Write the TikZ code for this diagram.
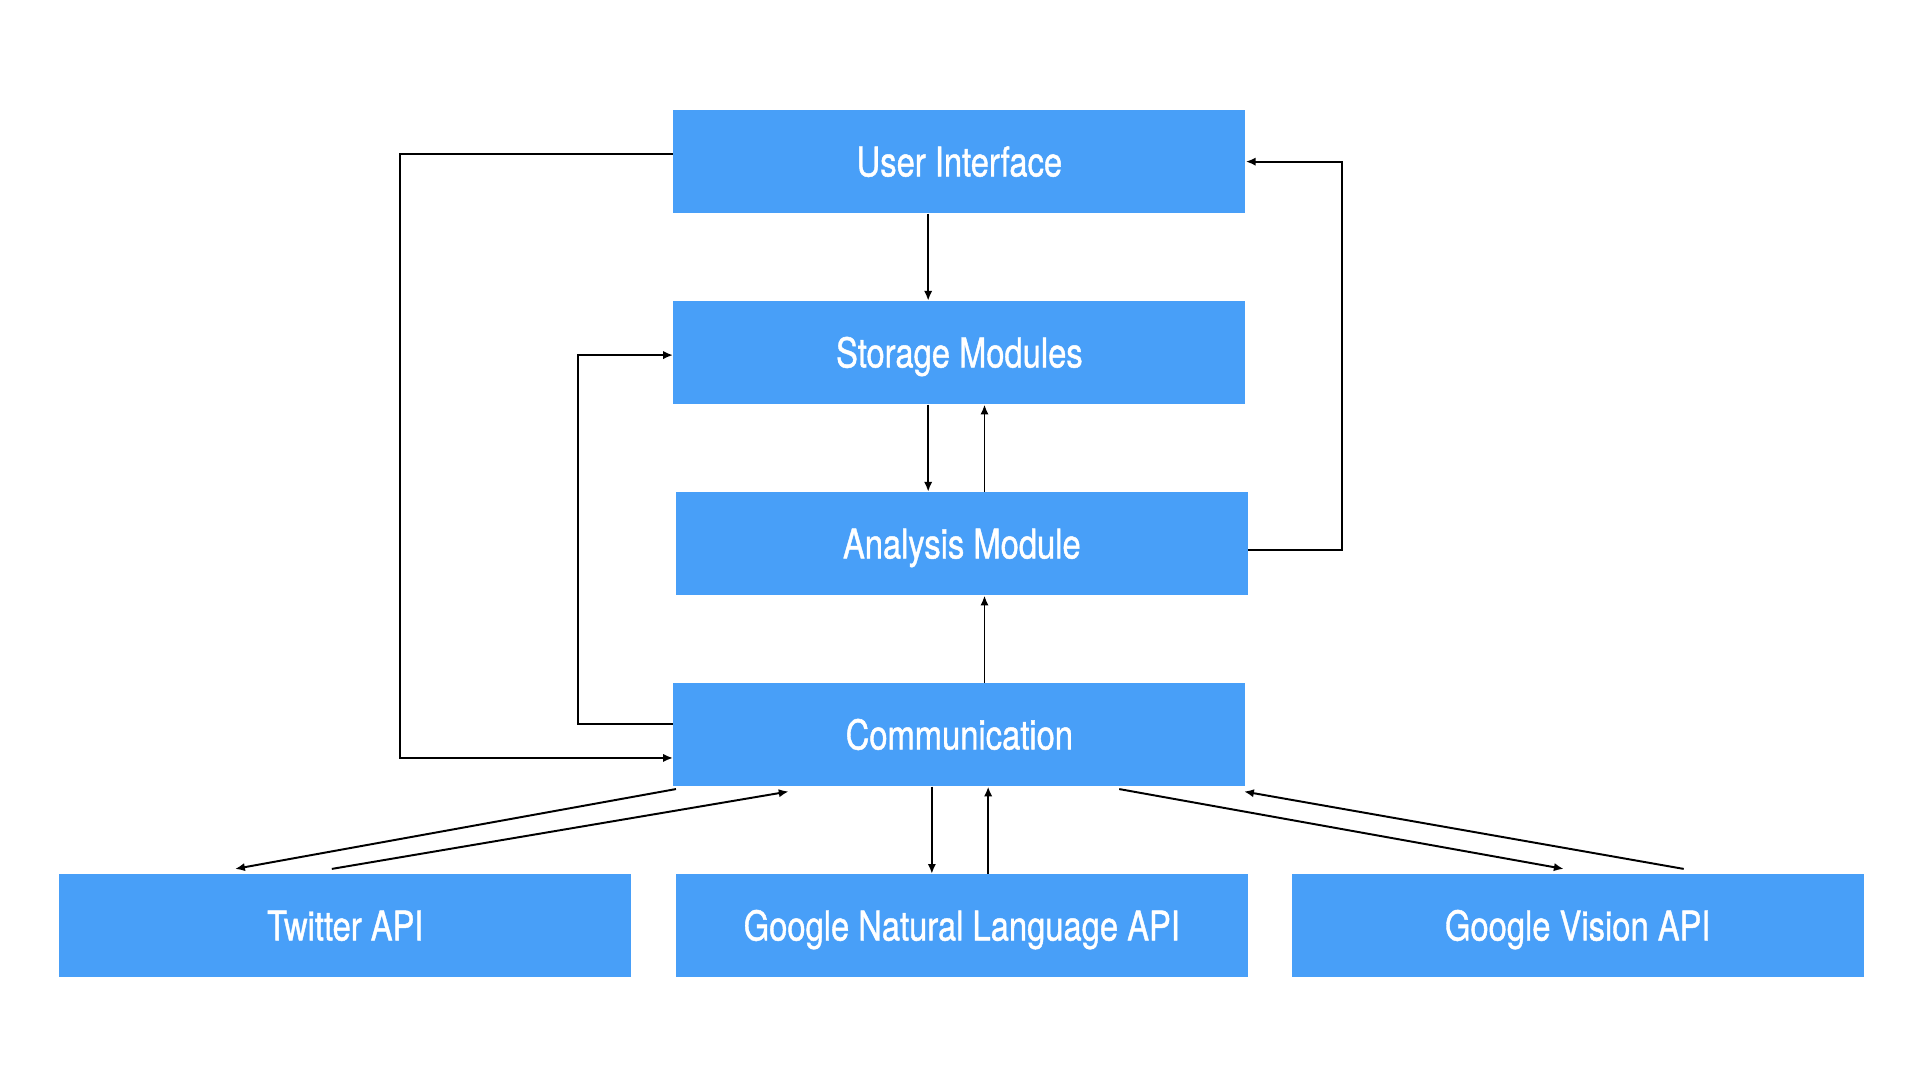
\documentclass[tikz,border=0pt]{standalone}
\usepackage{fontspec}
\setmainfont{TeX Gyre Heros}[FakeBold=1.2]
\usetikzlibrary{arrows.meta}
\definecolor{boxblue}{RGB}{72,159,248}
\tikzset{
  blk/.style={rectangle, fill=boxblue, draw=none, minimum width=233.5pt, minimum height=42pt,
    inner sep=0pt, text=white, font=\fontsize{16.7}{20}\selectfont, text height=12pt, text depth=0pt},
  arr/.style={draw=black, line width=0.8pt, -{Latex[length=4pt,width=3.4pt]}},
  ln/.style={draw=black, line width=0.8pt}
}
\newcommand{\nt}[1]{\scalebox{0.8}[1]{#1}}
\begin{document}
\begin{tikzpicture}[x=0.5pt,y=-0.5pt]
\useasboundingbox (0,0) rectangle (1568,882);
\fill[white] (0,0) rectangle (1568,882);

\node[blk] (ui) at (783.5,132) {\nt{User Interface}};
\node[blk] (st) at (783.5,288) {\nt{Storage Modules}};
\node[blk] (an) at (785.5,444) {\nt{Analysis Module}};
\node[blk] (cm) at (783.5,600) {\nt{Communication}};
\node[blk] (tw) at (282,756) {\nt{Twitter API}};
\node[blk] (nl) at (785.5,756) {\nt{Google Natural Language API}};
\node[blk] (gv) at (1288.5,756) {\nt{Google Vision API}};

% helper coordinates
\coordinate (x758) at (758,0);
\coordinate (x804) at (804,0);
\coordinate (x761) at (761,0);
\coordinate (x807) at (807,0);
\coordinate (x552) at (552,0);
\coordinate (x192) at (192,0);
\coordinate (x271) at (271,0);
\coordinate (x644) at (644,0);
\coordinate (x914) at (914,0);
\coordinate (x1277) at (1277,0);
\coordinate (x1375) at (1375,0);
\coordinate (x1016) at (1016,0);
\coordinate (r1) at (1096,449);
\coordinate (r2) at (1096,132);
\coordinate (l1) at (327,126);
\coordinate (l2) at (327,619);
\coordinate (m1) at (472,591);
\coordinate (m2) at (472,290);

% vertical connectors
\draw[arr] (ui.south -| x758) -- (st.north -| x758);
\draw[arr] (st.south -| x758) -- (an.north -| x758);
\draw[arr] (an.north -| x804) -- (st.south -| x804);
\draw[arr] (cm.north -| x804) -- (an.south -| x804);
\draw[arr] (cm.south -| x761) -- (nl.north -| x761);
\draw[arr] (nl.north -| x807) -- (cm.south -| x807);

% loops
\draw[arr] (an.east |- r1) -- (r1) -- (r2) -- (ui.east |- r2);
\draw[arr] (ui.west |- l1) -- (l1) -- (l2) -- (cm.west |- l2);
\draw[arr] (cm.west |- m1) -- (m1) -- (m2) -- (st.west |- m2);

% diagonals
\draw[arr] ([yshift=-1]cm.south -| x552) -- ([yshift=2]tw.north -| x192);
\draw[arr] ([yshift=2]tw.north -| x271) -- ([yshift=-2]cm.south -| x644);
\draw[arr] ([yshift=-1]cm.south -| x914) -- ([yshift=2]gv.north -| x1277);
\draw[arr] ([yshift=2]gv.north -| x1375) -- ([yshift=-2]cm.south -| x1016);
\end{tikzpicture}
\end{document}
